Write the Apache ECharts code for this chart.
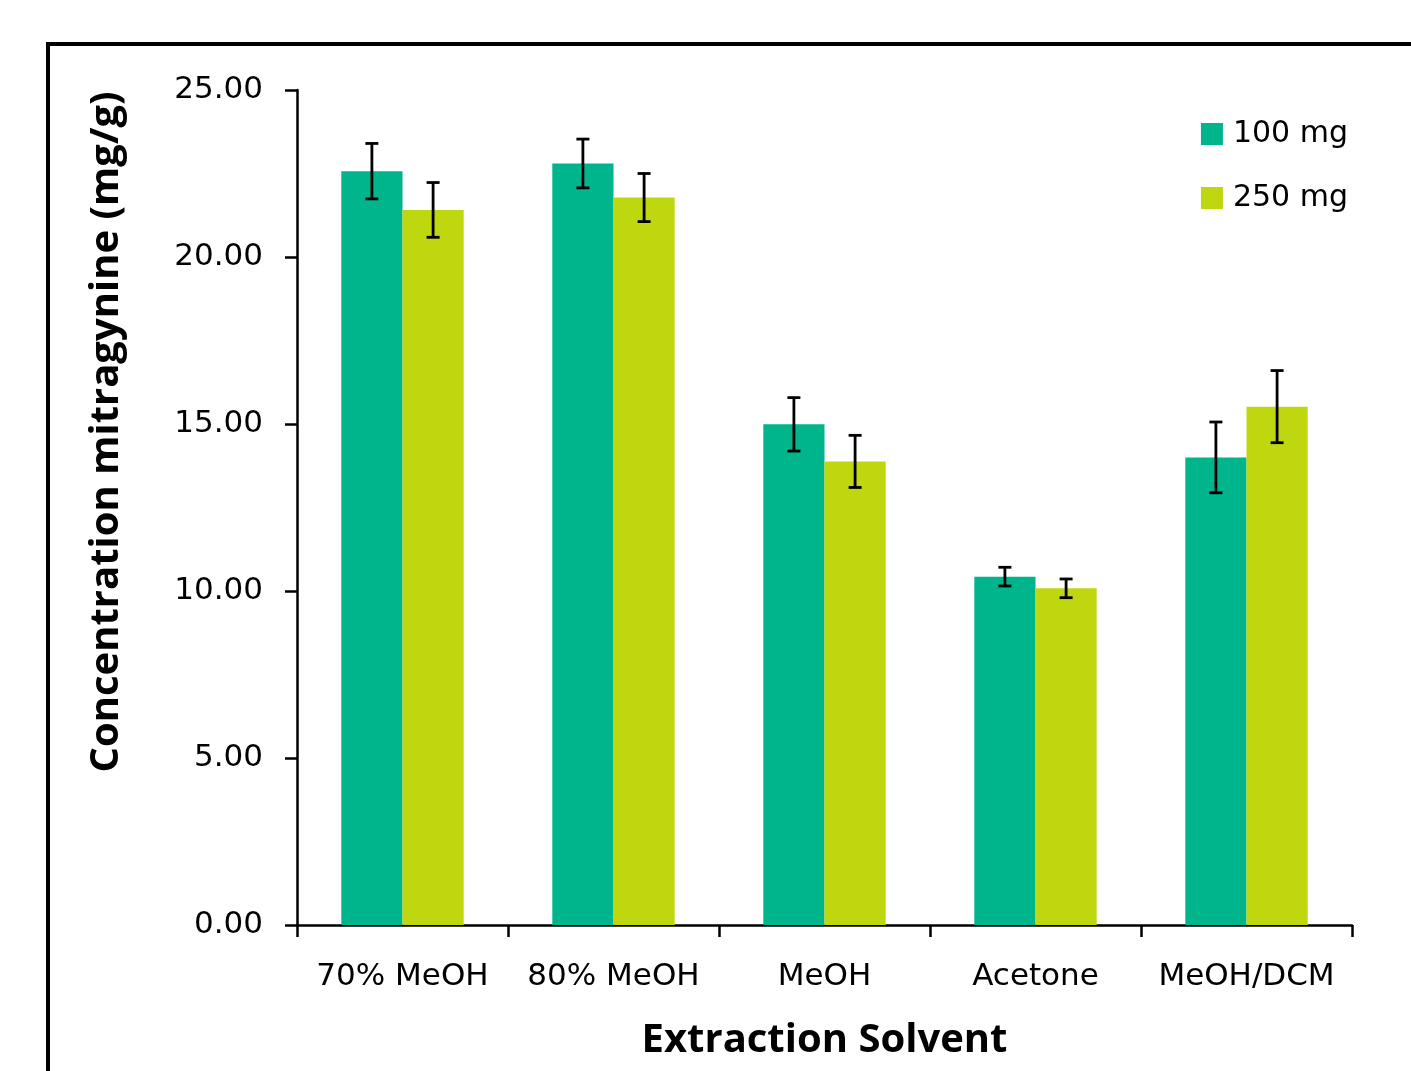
<!DOCTYPE html>
<html><head><meta charset="utf-8">
<script src="https://cdn.jsdelivr.net/npm/echarts@6/dist/echarts.min.js"></script>
<style>html,body{margin:0;padding:0;background:#fff}#c{width:1411px;height:1071px}</style>
</head><body><div id="c"></div>
<script>
const categories = ['70% MeOH', '80% MeOH', 'MeOH', 'Acetone', 'MeOH/DCM'];
const seriesNames = ['100 mg', '250 mg'];
const values100 = [22.57, 22.80, 14.99, 10.43, 14.00];
const values250 = [21.41, 21.78, 13.88, 10.08, 15.52];
const err100 = [0.83, 0.73, 0.80, 0.28, 1.06];
const err250 = [0.82, 0.72, 0.78, 0.28, 1.08];
const yTicks = [0, 5, 10, 15, 20, 25];
const xTitle = 'Extraction Solvent';
const yTitle = 'Concentration mitragynine (mg/g)';

const colors = ['#00B48B', '#BFD70F'];
const barCatGap = 0.42;
const fontFam = 'DejaVu Sans';

function errSeries(vals, errs, idx) {
  return {
    type: 'custom',
    z: 10,
    data: vals.map((v, i) => [i, v - errs[i], v + errs[i]]),
    renderItem: function (params, api) {
      const i = api.value(0);
      const band = api.size([1, 0])[0];
      const bw = band * (1 - barCatGap) / 2;
      const off = (idx === 0 ? -0.5 : 0.5) * bw;
      const lo = api.coord([i, api.value(1)]);
      const hi = api.coord([i, api.value(2)]);
      const x = lo[0] + off;
      const cap = 6.5;
      const st = { stroke: '#000', lineWidth: 2.8 };
      return { type: 'group', children: [
        { type: 'line', shape: { x1: x, y1: lo[1], x2: x, y2: hi[1] }, style: st },
        { type: 'line', shape: { x1: x - cap, y1: lo[1], x2: x + cap, y2: lo[1] }, style: st },
        { type: 'line', shape: { x1: x - cap, y1: hi[1], x2: x + cap, y2: hi[1] }, style: st }
      ]};
    }
  };
}

const chart = echarts.init(document.getElementById('c'), null, { renderer: 'canvas' });
chart.setOption({
  animation: false,
  textStyle: { fontFamily: fontFam },
  grid: { left: 297, right: 59, top: 90, bottom: 146, containLabel: false },
  graphic: [{
    type: 'rect', silent: true, z: 100,
    shape: { x: 48, y: 44, width: 1500, height: 1200 },
    style: { fill: 'none', stroke: '#000', lineWidth: 4 }
  }, {
    type: 'text', silent: true, z: 100,
    x: 107, y: 432, rotation: Math.PI / 2,
    style: { text: yTitle, fontFamily: 'Open Sans', fontWeight: 'bold', fontSize: 40,
      fill: '#000', align: 'center', verticalAlign: 'middle' }
  }],
  legend: {
    orient: 'vertical', right: 58, top: 114,
    itemWidth: 22, itemHeight: 22, itemGap: 34,
    icon: 'rect',
    textStyle: { fontFamily: fontFam, fontSize: 30, color: '#000', padding: [0, 0, 0, 5] },
    data: seriesNames
  },
  xAxis: {
    type: 'category', data: categories,
    axisLine: { lineStyle: { color: '#000', width: 2.5 } },
    axisTick: { show: true, length: 12, lineStyle: { color: '#000', width: 2.5 } },
    axisLabel: { fontFamily: fontFam, fontSize: 31, color: '#000', margin: 36, interval: 0 },
    name: xTitle, nameLocation: 'middle', nameGap: 96,
    nameTextStyle: { fontFamily: 'Open Sans', fontWeight: 'bold', fontSize: 40, color: '#000' }
  },
  yAxis: {
    type: 'value', min: 0, max: 25, interval: 5,
    axisLine: { show: true, lineStyle: { color: '#000', width: 2.5 } },
    axisTick: { show: true, length: 12, lineStyle: { color: '#000', width: 2.5 } },
    splitLine: { show: false },
    axisLabel: { fontFamily: fontFam, fontSize: 31, color: '#000', margin: 34,
      formatter: v => v.toFixed(2) }
  },
  series: [
    { name: seriesNames[0], type: 'bar', data: values100, barGap: '0%', barCategoryGap: (barCatGap * 100) + '%',
      itemStyle: { color: colors[0] } },
    { name: seriesNames[1], type: 'bar', data: values250, barGap: '0%', barCategoryGap: (barCatGap * 100) + '%',
      itemStyle: { color: colors[1] } },
    errSeries(values100, err100, 0),
    errSeries(values250, err250, 1)
  ]
});
</script></body></html>
